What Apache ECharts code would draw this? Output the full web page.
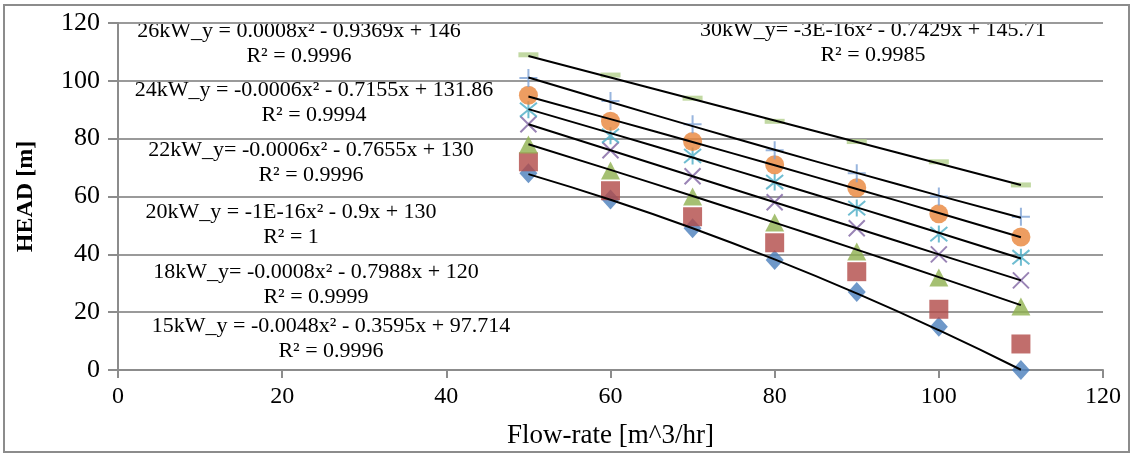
<!DOCTYPE html>
<html><head><meta charset="utf-8">
<script src="https://cdn.jsdelivr.net/npm/echarts@6/dist/echarts.min.js"></script>
<style>html,body{margin:0;padding:0;background:#fff}#c{width:1134px;height:456px}</style>
</head><body><div id="c"></div>
<script>
// ---- data ----
const flowRates = [50, 60, 70, 80, 90, 100, 110];
const head15kW  = [68, 59, 49, 38, 27, 15, 0];
const head16kW  = [72, 62, 53, 44, 34, 21, 9];
const head18kW  = [78, 69, 60, 51, 41, 32, 22];
const head20kW  = [85, 76, 67, 58, 49, 40, 31];
const head22kW  = [90, 81, 74, 65, 56, 47, 39];
const head24kW  = [95, 86, 79, 71, 63, 54, 46];
const head26kW  = [101, 93, 85, 76, 68, 60, 53];
const head30kW  = [109, 102, 94, 86, 79, 72, 64];
// trendline coefficients (y = a*x^2 + b*x + c), as printed on the chart
const trend15kW = [-0.0048, -0.3595, 97.714];
const trend18kW = [-0.0008, -0.7988, 120];
const trend20kW = [-1e-16, -0.9, 130];
const trend22kW = [-0.0006, -0.7655, 130];
const trend24kW = [-0.0006, -0.7155, 131.86];
const trend26kW = [0.0008, -0.9369, 146];
const trend30kW = [-3e-16, -0.7429, 145.71];
const eq15 = ['15kW_y = -0.0048x² - 0.3595x + 97.714', 'R² = 0.9996'];
const eq18 = ['18kW_y= -0.0008x² - 0.7988x + 120', 'R² = 0.9999'];
const eq20 = ['20kW_y = -1E-16x² - 0.9x + 130', 'R² = 1'];
const eq22 = ['22kW_y= -0.0006x² - 0.7655x + 130', 'R² = 0.9996'];
const eq24 = ['24kW_y = -0.0006x² - 0.7155x + 131.86', 'R² = 0.9994'];
const eq26 = ['26kW_y = 0.0008x² - 0.9369x + 146', 'R² = 0.9996'];
const eq30 = ['30kW_y= -3E-16x² - 0.7429x + 145.71', 'R² = 0.9985'];
const xAxisTitle = 'Flow-rate [m^3/hr]';
const yAxisTitle = 'HEAD [m]';

// ---- build ----
const pts = ys => flowRates.map((x, i) => [x, ys[i]]);
const trendPts = c => flowRates.map(x => [x, c[0]*x*x + c[1]*x + c[2]]);
const FONT = 'Liberation Serif';

function scatter(name, ys, symbol, size, style, z) {
  return { name, type: 'scatter', data: pts(ys), symbol, symbolSize: size,
    itemStyle: style, z: z || 2, silent: true };
}
function trend(c) {
  return { type: 'line', data: trendPts(c), smooth: true, symbol: 'none',
    lineStyle: { color: '#000', width: 2 }, z: 5, silent: true };
}
const XPATH = 'path://M0,0L10,10M10,0L0,10';
const STAR = 'path://M0,0L10,10M10,0L0,10M5,-1L5,11';
const PLUS = 'path://M5,0L5,10M0,5L10,5';

function eqText(lines, cx, cy) {
  return [
    { type: 'text', x: cx, y: cy, style: { text: lines[0], font: '22px "' + FONT + '"', fill: '#000', align: 'center', verticalAlign: 'middle' } },
    { type: 'text', x: cx, y: cy + 25, style: { text: lines[1], font: '22px "' + FONT + '"', fill: '#000', align: 'center', verticalAlign: 'middle' } }
  ];
}

const chart = echarts.init(document.getElementById('c'), null, { renderer: 'canvas' });
chart.setOption({
  animation: false,
  backgroundColor: '#fff',
  grid: { left: 118, right: 31, top: 23, bottom: 86 },
  xAxis: {
    type: 'value', min: 0, max: 120, interval: 20,
    name: xAxisTitle, nameLocation: 'middle', nameGap: 52,
    nameTextStyle: { fontFamily: FONT, fontSize: 27, color: '#000' },
    axisLine: { show: true, lineStyle: { color: '#8c8c8c', width: 2 } },
    axisTick: { show: true, length: 8, lineStyle: { color: '#8c8c8c', width: 2 } },
    axisLabel: { fontFamily: FONT, fontSize: 24, color: '#000', margin: 15 },
    splitLine: { show: false }
  },
  yAxis: {
    type: 'value', min: 0, max: 120, interval: 20,
    name: yAxisTitle, nameLocation: 'middle', nameGap: 80,
    nameTextStyle: { fontFamily: FONT, fontSize: 24, fontWeight: 'bold', color: '#000' },
    axisLine: { show: true, lineStyle: { color: '#8c8c8c', width: 2 } },
    axisTick: { show: true, length: 10, lineStyle: { color: '#8c8c8c', width: 2 } },
    axisLabel: { fontFamily: FONT, fontSize: 26, color: '#000', margin: 18 },
    splitLine: { show: true, lineStyle: { color: '#9a9a9a', width: 2 } }
  },
  series: [
    scatter('15kW', head15kW, 'diamond', [18, 20], { color: '#4a7ebb' }),
    scatter('16kW', head16kW, 'rect', 19, { color: '#b24a47' }),
    scatter('18kW', head18kW, 'triangle', [19, 18], { color: '#8fb04f' }),
    scatter('20kW', head20kW, XPATH, 16, { color: 'none', borderColor: '#8064a2', borderWidth: 2 }),
    scatter('22kW', head22kW, STAR, 17, { color: 'none', borderColor: '#4bacc6', borderWidth: 2 }),
    scatter('24kW', head24kW, 'circle', 19, { color: '#e8853a' }),
    scatter('26kW', head26kW, PLUS, 18, { color: 'none', borderColor: '#7ea2d6', borderWidth: 2 }),
    scatter('30kW', head30kW, 'rect', [20, 5], { color: '#b3cf8c' }),
    trend(trend15kW), trend(trend18kW), trend(trend20kW), trend(trend22kW),
    trend(trend24kW), trend(trend26kW), trend(trend30kW)
  ],
  graphic: [
    { type: 'rect', shape: { x: 4, y: 5, width: 1125, height: 447 }, style: { fill: 'none', stroke: '#8c8c8c', lineWidth: 2 }, z: 0, silent: true },
    ...eqText(eq26, 299, 31),
    ...eqText(eq30, 873, 30),
    ...eqText(eq24, 314, 90),
    ...eqText(eq22, 311, 150),
    ...eqText(eq20, 291, 212),
    ...eqText(eq18, 316, 272),
    ...eqText(eq15, 331, 326)
  ]
});
</script></body></html>
